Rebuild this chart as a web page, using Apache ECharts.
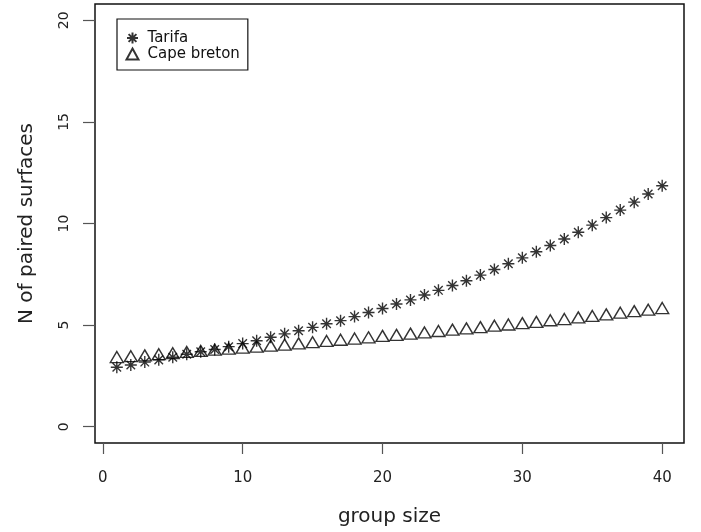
<!DOCTYPE html>
<html>
<head>
<meta charset="utf-8">
<script src="https://cdn.jsdelivr.net/npm/echarts@6/dist/echarts.min.js"></script>
<style>
  html, body { margin: 0; padding: 0; background: #fff; }
  #chart { width: 701px; height: 532px; }
</style>
</head>
<body>
<div id="chart"></div>
<script>
// group size on the x axis
const groupSize = [1, 2, 3, 4, 5, 6, 7, 8, 9, 10, 11, 12, 13, 14, 15, 16, 17, 18, 19, 20,
  21, 22, 23, 24, 25, 26, 27, 28, 29, 30, 31, 32, 33, 34, 35, 36, 37, 38, 39, 40]

// N of paired surfaces
const tarifa = [2.93, 3.04, 3.18, 3.29, 3.42, 3.57, 3.69, 3.80, 3.94, 4.09,
  4.23, 4.40, 4.57, 4.72, 4.89, 5.07, 5.22, 5.42, 5.62, 5.82,
  6.04, 6.24, 6.48, 6.71, 6.95, 7.18, 7.46, 7.74, 8.02, 8.31,
  8.61, 8.92, 9.24, 9.57, 9.92, 10.29, 10.66, 11.05, 11.45, 11.86]
const capeBreton = [3.43, 3.47, 3.51, 3.57, 3.62, 3.68, 3.73, 3.79, 3.84, 3.89,
  3.94, 3.99, 4.04, 4.10, 4.16, 4.22, 4.28, 4.34, 4.40, 4.47,
  4.52, 4.58, 4.64, 4.71, 4.78, 4.84, 4.90, 4.97, 5.03, 5.10,
  5.16, 5.24, 5.30, 5.38, 5.45, 5.53, 5.61, 5.69, 5.76, 5.84]

const xTicks = [0, 10, 20, 30, 40]
const yTicks = [0, 5, 10, 15, 20]

const font = 'DejaVu Sans'
// asterisk like R's pch = 8
const starPath = 'path://M0,-10L0,10M-10,0L10,0M-7.1,-7.1L7.1,7.1M-7.1,7.1L7.1,-7.1'

const chart = echarts.init(document.getElementById('chart'))
chart.setOption({
  animation: false,
  backgroundColor: '#fff',
  grid: {
    left: 95,
    top: 4,
    width: 589,
    height: 440,
    show: true,
    borderColor: '#111',
    borderWidth: 1.5
  },
  legend: {
    orient: 'vertical',
    left: 117,
    top: 19,
    padding: [11, 8, 8, 7],
    itemGap: 0,
    itemWidth: 12,
    itemHeight: 11,
    borderColor: '#111',
    borderWidth: 1.2,
    borderRadius: 0,
    backgroundColor: '#fff',
    textStyle: { fontFamily: font, fontSize: 15, color: '#111', padding: [0, 0, 0, 4] },
    data: ['Tarifa', 'Cape breton']
  },
  xAxis: {
    type: 'value',
    min: -0.56,
    max: 41.56,
    name: 'group size',
    nameLocation: 'middle',
    nameGap: 64,
    nameTextStyle: { fontFamily: font, fontSize: 20, color: '#222' },
    axisLine: { show: false, onZero: false },
    axisTick: { show: true, length: 11, customValues: xTicks, lineStyle: { color: '#555', width: 1.2 } },
    axisLabel: { customValues: xTicks, margin: 28, fontFamily: font, fontSize: 15, color: '#222' },
    splitLine: { show: false }
  },
  yAxis: {
    type: 'value',
    min: -0.8,
    max: 20.8,
    name: 'N of paired surfaces',
    nameLocation: 'middle',
    nameGap: 58,
    nameTextStyle: { fontFamily: font, fontSize: 20, color: '#222' },
    axisLine: { show: false, onZero: false },
    axisTick: { show: true, length: 12, customValues: yTicks, lineStyle: { color: '#555', width: 1.2 } },
    axisLabel: { customValues: yTicks, rotate: 90, margin: 24, fontFamily: font, fontSize: 14, color: '#222' },
    splitLine: { show: false }
  },
  series: [
    {
      name: 'Tarifa',
      type: 'scatter',
      symbol: starPath,
      symbolSize: 12,
      symbolKeepAspect: true,
      itemStyle: { color: 'none', borderColor: '#000', borderWidth: 1.4 },
      data: groupSize.map((g, i) => [g, tarifa[i]])
    },
    {
      name: 'Cape breton',
      type: 'scatter',
      symbol: 'triangle',
      symbolSize: [13, 11],
      itemStyle: { color: 'none', borderColor: '#000', borderWidth: 1.4 },
      data: groupSize.map((g, i) => [g, capeBreton[i]])
    }
  ]
})
</script>
</body>
</html>
